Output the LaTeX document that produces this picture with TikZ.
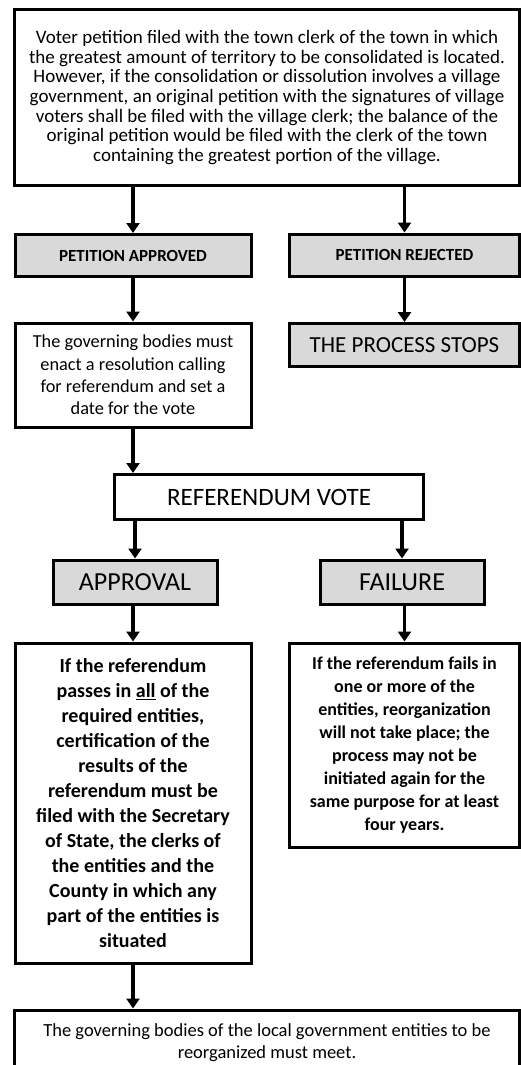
\documentclass[tikz,border=0pt]{standalone}
\usepackage{fontspec}
\setmainfont{Carlito}
\usetikzlibrary{positioning,arrows.meta}
\definecolor{boxgray}{HTML}{D9D9D9}
\tikzset{
  txtbox/.style={rectangle,draw=black,line width=3pt,fill=white,align=center,inner sep=2pt},
  hdrbox/.style={rectangle,draw=black,line width=3pt,fill=boxgray,align=center,inner sep=2pt},
  flow/.style={-{Triangle[length=10pt,width=13pt]},line width=3.5pt},
}

\begin{document}
\begin{tikzpicture}[x=1pt,y=-1pt]
  \useasboundingbox (0,0) rectangle (521,1065);
  % top row
  \node[txtbox,minimum width=505,minimum height=176,font=\fontsize{19}{19.6}\selectfont] (petition) at (267,97.5)
    {Voter petition filed with the town clerk of the town in which\\
     the greatest amount of territory to be consolidated is located.\\
     However, if the consolidation or dissolution involves a village\\
     government, an original petition with the signatures of village\\
     voters shall be filed with the village clerk; the balance of the\\
     original petition would be filed with the clerk of the town\\
     containing the greatest portion of the village.};
  \node[hdrbox,minimum width=236,minimum height=42,font=\fontsize{17}{18}\selectfont\bfseries] (approved) at (133,255.5) {PETITION APPROVED};
  \node[hdrbox,minimum width=230,minimum height=42,font=\fontsize{17}{18}\selectfont\bfseries] (rejected) at (404.5,255) {PETITION REJECTED};
  \node[txtbox,minimum width=236,minimum height=104,font=\fontsize{18.3}{22.2}\selectfont] (resolution) at (133,375)
    {The governing bodies must\\ enact a resolution calling\\ for referendum and set a\\ date for the vote};
  \node[hdrbox,minimum width=230,minimum height=43,font=\fontsize{23}{26}\selectfont] (stops) at (404.5,345) {THE PROCESS STOPS};
  % vote
  \node[txtbox,minimum width=309,minimum height=45,font=\fontsize{25}{28}\selectfont] (vote) at (269,497) {REFERENDUM VOTE};
  \node[hdrbox,minimum width=164,minimum height=44,font=\fontsize{26}{28}\selectfont] (approval) at (135,582) {APPROVAL};
  \node[hdrbox,minimum width=164,minimum height=44,font=\fontsize{26}{28}\selectfont] (failure) at (402,582) {FAILURE};
  % outcomes
  \node[txtbox,minimum width=236,minimum height=320,font=\fontsize{20}{25}\selectfont\bfseries] (passes) at (133,803)
    {If the referendum\\ passes in \underline{all} of the\\ required entities,\\ certification of the\\
     results of the\\ referendum must be\\ filed with the Secretary\\ of State, the clerks of\\
     the entities and the\\ County in which any\\ part of the entities is\\ situated};
  \node[txtbox,minimum width=230,minimum height=204,font=\fontsize{18}{22.9}\selectfont\bfseries] (fails) at (404.5,745)
    {If the referendum fails in\\ one or more of the\\ entities, reorganization\\ will not take place; the\\
     process may not be\\ initiated again for the\\ same purpose for at least\\ four years.};
  \node[txtbox,anchor=north,minimum width=505,inner ysep=14pt,text depth=30pt,font=\fontsize{18.5}{22}\selectfont] (meet) at (267,1008.5)
    {The governing bodies of the local government entities to be\\ reorganized must meet.};
  % connectors
  \draw[flow] (petition.south -| approved.north) -- (approved.north);
  \draw[flow] (petition.south -| rejected.north) -- (rejected.north);
  \draw[flow] (approved) -- (resolution);
  \draw[flow] (rejected) -- (stops);
  \draw[flow] (resolution) -- (resolution |- vote.north);
  \draw[flow] (vote.south -| approval.north) -- (approval.north);
  \draw[flow] (vote.south -| failure.north) -- (failure.north);
  \draw[flow] (approval.south -| passes.north) -- (passes.north);
  \draw[flow] (failure.south -| fails.north) -- (fails.north);
  \draw[flow] (passes) -- (passes |- meet.north);
\end{tikzpicture}
\end{document}
